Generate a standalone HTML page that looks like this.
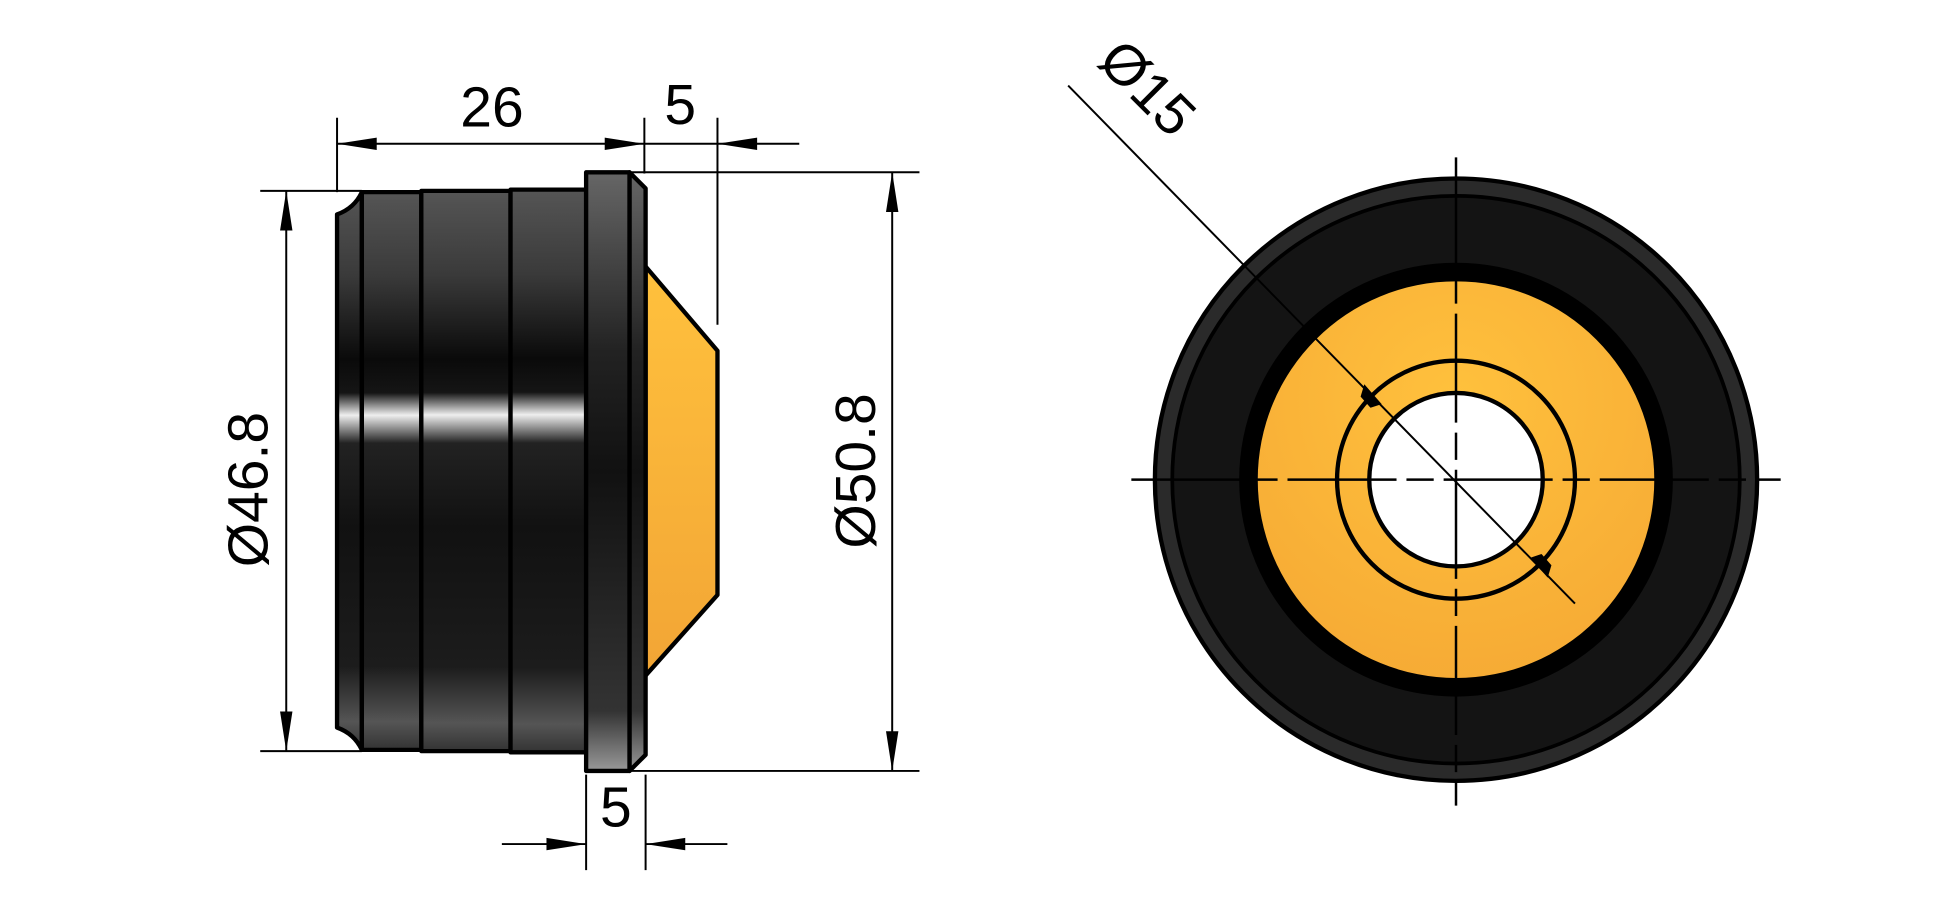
<!DOCTYPE html>
<html><head><style>html,body{margin:0;padding:0;background:#fff}svg{display:block}</style></head><body>
<svg width="1943" height="911" viewBox="0 0 1568 735" preserveAspectRatio="none" xmlns="http://www.w3.org/2000/svg" font-family="Liberation Sans, sans-serif">
<defs>
<linearGradient id="cyl" x1="0" y1="0" x2="0" y2="1">
<stop offset="0" stop-color="#555"/><stop offset="0.15" stop-color="#3a3a3a"/><stop offset="0.3" stop-color="#0a0a0a"/><stop offset="0.36" stop-color="#151515"/><stop offset="0.4" stop-color="#eee"/><stop offset="0.45" stop-color="#222"/><stop offset="0.6" stop-color="#111"/><stop offset="0.85" stop-color="#1c1c1c"/><stop offset="0.95" stop-color="#555"/><stop offset="1" stop-color="#333"/>
</linearGradient>
<linearGradient id="fl" x1="0" y1="0" x2="0" y2="1">
<stop offset="0" stop-color="#666"/><stop offset="0.3" stop-color="#222"/><stop offset="0.5" stop-color="#111"/><stop offset="0.9" stop-color="#333"/><stop offset="1" stop-color="#999"/>
</linearGradient>
<linearGradient id="or" x1="0" y1="0" x2="0" y2="1">
<stop offset="0" stop-color="#ffc13d"/><stop offset="1" stop-color="#f2a535"/>
</linearGradient>
<radialGradient id="or2" cx="0.5" cy="0.3" r="0.8">
<stop offset="0" stop-color="#ffc13d"/><stop offset="1" stop-color="#f5a834"/>
</radialGradient>
</defs>
<g stroke="#000" stroke-width="1.6" fill="none">
<line x1="272" y1="95" x2="272" y2="155"/>
<line x1="520" y1="95" x2="520" y2="140"/>
<line x1="579" y1="95" x2="579" y2="262"/>
<line x1="272" y1="116" x2="520" y2="116"/>
<line x1="520" y1="116" x2="645" y2="116"/>
<line x1="210" y1="154" x2="292" y2="154"/>
<line x1="210" y1="606" x2="292" y2="606"/>
<line x1="231" y1="154" x2="231" y2="606"/>
<line x1="508" y1="139" x2="742" y2="139"/>
<line x1="508" y1="622" x2="742" y2="622"/>
<line x1="720" y1="139" x2="720" y2="622"/>
<line x1="473" y1="625" x2="473" y2="702"/>
<line x1="521" y1="625" x2="521" y2="702"/>
<line x1="405" y1="681" x2="473" y2="681"/>
<line x1="521" y1="681" x2="587" y2="681"/>
</g>
<g fill="#000">
<polygon points="272,116 304,111 304,121"/><polygon points="520,116 488,111 488,121"/>
<polygon points="579,116 611,111 611,121"/>
<polygon points="231,154 226,186 236,186"/><polygon points="231,606 226,574 236,574"/>
<polygon points="720,139 715,171 725,171"/><polygon points="720,622 715,590 725,590"/>
<polygon points="473,681 441,676 441,686"/><polygon points="521,681 553,676 553,686"/>
</g>
<g font-size="46" fill="#000">
<text x="397" y="102" text-anchor="middle">26</text>
<text x="549" y="100" text-anchor="middle">5</text>
<text x="497" y="667" text-anchor="middle">5</text>
<text transform="translate(216,395) rotate(-90)" text-anchor="middle">Ø46.8</text>
<text transform="translate(706,380) rotate(-90)" text-anchor="middle">Ø50.8</text>
</g>
<g stroke="#000" stroke-width="3.5" stroke-linejoin="round">
<path d="M272,173 Q286,168 292,155 L292,605 Q286,592 272,587 Z" fill="url(#cyl)"/>
<rect x="292" y="155" width="48" height="450" fill="url(#cyl)"/>
<rect x="340" y="154" width="72" height="452" fill="url(#cyl)"/>
<rect x="412" y="153" width="61" height="454" fill="url(#cyl)"/>
<polygon points="521,215 579,283 579,480 521,545" fill="url(#or)"/>
<polygon points="508,139 521,152 521,609 508,622" fill="url(#fl)"/>
<rect x="473" y="139" width="35" height="483" fill="url(#fl)"/>
</g>
<circle cx="1175" cy="387" r="243" fill="#2a2a2a" stroke="#000" stroke-width="3.5"/>
<circle cx="1175" cy="387" r="229" fill="#141414" stroke="#000" stroke-width="3"/>
<circle cx="1175" cy="387" r="175" fill="#000"/>
<circle cx="1175" cy="387" r="160" fill="url(#or2)"/>
<circle cx="1175" cy="387" r="96" fill="none" stroke="#000" stroke-width="3.5"/>
<circle cx="1175" cy="387" r="70" fill="#fff" stroke="#000" stroke-width="3.5"/>
<g stroke="#000" stroke-width="2">
<line x1="913" y1="387" x2="1437" y2="387" stroke-dasharray="88,8,22,8"/>
<line x1="1175" y1="127" x2="1175" y2="650" stroke-dasharray="88,8,22,8"/>
<line x1="862" y1="69" x2="1271" y2="487" stroke-width="1.6"/>
</g>
<g fill="#000">
<polygon points="1101,310 1115,326 1106,329 1098,320"/>
<polygon points="1249,466 1235,450 1244,447 1252,456"/>
</g>
<text transform="translate(915,82) rotate(45)" font-size="46" fill="#000" text-anchor="middle">Ø15</text>
</svg>
</body></html>
